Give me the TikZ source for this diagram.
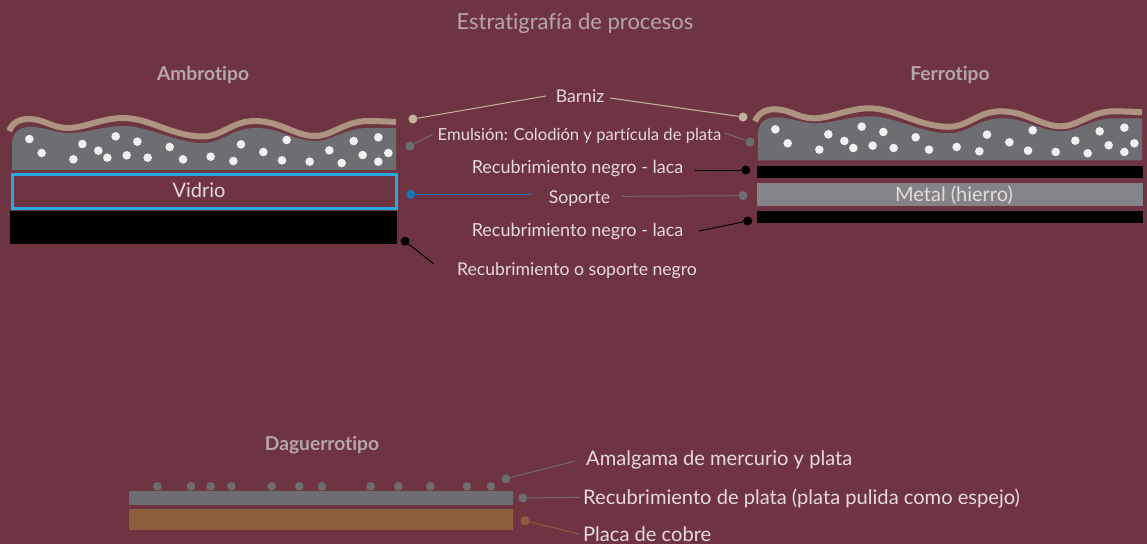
\documentclass[tikz,border=0pt]{standalone}
\usepackage{fontspec}
\setmainfont{Lato}[Ligatures=NoCommon]
\definecolor{bgc}{HTML}{6F3441}
\definecolor{varn}{HTML}{AC9480}
\definecolor{emul}{HTML}{6D6E71}
\definecolor{dotw}{HTML}{F1F1F2}
\definecolor{labc}{HTML}{E6DADC}
\definecolor{headc}{HTML}{B5A6AC}
\definecolor{glassb}{HTML}{27AAE1}
\definecolor{blued}{HTML}{1B75BC}
\definecolor{metal}{HTML}{828487}
\definecolor{copper}{HTML}{8B5E3C}
\definecolor{beige}{HTML}{C2B59B}
\tikzset{
  x=1pt,y=-1pt,
  lab/.style={text=labc,font=\fontsize{17.6}{20}\selectfont,inner sep=0pt},
  lacalab/.style={text=labc,font=\fontsize{18}{20}\selectfont,inner sep=0pt},
  smalllab/.style={text=labc,font=\fontsize{16.6}{20}\selectfont,inner sep=0pt},
  biglab/.style={text=labc,font=\fontsize{20.1}{24}\selectfont,inner sep=0pt},
  head/.style={text=headc,font=\bfseries\fontsize{19.2}{23}\selectfont,inner sep=0pt},
  inlab/.style={text=labc,font=\fontsize{20}{24}\selectfont,inner sep=0pt},
  pt/.style={circle,fill=#1,draw=none,minimum size=9pt,inner sep=0pt},
  conn/.style={draw=#1,line width=1pt},
  grain/.style={fill=dotw,draw=none},
  amal/.style={fill=emul,draw=none},
}
\newcommand{\stratawave}{%
  \fill[emul] (12,170) -- (12,142) .. controls (13,132) and (20,127) .. (30,127)
    .. controls (45,127) and (55,133) .. (70,133)
    .. controls (85,133) and (105,126) .. (123,126)
    .. controls (150,126) and (175,143) .. (203,143)
    .. controls (222,143) and (232,128) .. (256,128)
    .. controls (280,128) and (295,141) .. (315,141)
    .. controls (332,141) and (345,128) .. (368,128)
    .. controls (378,128) and (388,128) .. (396,128) -- (396,170) -- cycle;
  \draw[varn,line width=6pt] (9,131) .. controls (13,122) and (20,119) .. (29,119)
    .. controls (44,119) and (52,128) .. (68,128)
    .. controls (84,128) and (103,118) .. (123,118)
    .. controls (150,118) and (172,136.5) .. (203,136.5)
    .. controls (222,136.5) and (232,121) .. (255,121)
    .. controls (280,121) and (295,136) .. (315,136)
    .. controls (332,136) and (345,121) .. (368,121)
    .. controls (378,121) and (388,121.5) .. (396,122);
  \foreach \a/\b in {88/267,125/309,220/328,247/282,295/302,322/323,347/259,380/316,412/275,443/323,509/291,549/328,632/320,700/333,723/283,790/306,846/331,860/270,929/335,988/301,1025/339,1061/273,1088/315,1135/262,1135/335,1165/309}
    \fill[grain] ({\a/3},{50+\b/3}) circle[radius=4.3pt];
}
\begin{document}
\begin{tikzpicture}
\useasboundingbox (0,0) rectangle (1147,544);
\fill[bgc] (0,0) rectangle (1147,544);

% Headings
\node[text=headc,font=\fontsize{22}{26}\selectfont,inner sep=0pt] (title) at (575,23) {Estratigrafía de procesos};
\node[head] (hamb) at (203,75) {Ambrotipo};
\node[head] (hfer) at (950,75) {Ferrotipo};
\node[head] (hdag) at (322,445) {Daguerrotipo};

% Ambrotipo
\stratawave
\node[draw=glassb,line width=3pt,minimum width=384pt,minimum height=34pt,inner sep=0pt] (vidrio) at (204.5,191.5) {};
\node[inlab] (vtxt) at (199,190) {Vidrio};
\fill[black] (10,210.5) rectangle (397,244);

% Ferrotipo
\begin{scope}[shift={(746,-9.7)}]
\stratawave
\end{scope}
\fill[black] (757,166) rectangle (1143,178);
\fill[metal] (757,183) rectangle (1143,206);
\node[inlab] (mtxt) at (954,195) {Metal (hierro)};
\fill[black] (757,211) rectangle (1143,223);

% Daguerrotipo
\fill[emul] (129,491) rectangle (513,505);
\fill[copper] (129,509) rectangle (513,530);
\foreach \a in {112,213,272,334,455,538,606,752,835,931,1041,1113}
  \fill[amal] ({120+\a/3},486.3) circle[radius=4.3pt];

% Labels
\node[lab] (barniz) at (580,96) {Barniz};
\node[smalllab] (emuls) at (579.5,135.5) {Emulsión: Colodión y partícula de plata};
\node[lacalab] (laca1) at (577.5,169) {Recubrimiento negro - laca};
\node[lab] (soporte) at (579.5,199) {Soporte};
\node[lacalab] (laca2) at (577.5,232) {Recubrimiento negro - laca};
\node[lab] (negro) at (577,271) {Recubrimiento o soporte negro};
\node[biglab,anchor=west] (amalg) at (586,459.5) {Amalgama de mercurio y plata};
\node[biglab,anchor=west] (plata) at (583,498.5) {Recubrimiento de plata (plata pulida como espejo)};
\node[biglab,anchor=west] (cobre) at (583,534) {Placa de cobre};

% Marker dots
\node[pt=beige] (d1) at (413,119) {};
\node[pt=beige] (d2) at (743,117) {};
\node[pt=emul] (d3) at (410,146) {};
\node[pt=emul] (d4) at (750,142) {};
\node[pt=black] (d5) at (745.7,170) {};
\node[pt=blued] (d6) at (410.7,194.3) {};
\node[pt=emul] (d7) at (743,195.7) {};
\node[pt=black] (d8) at (747.7,221) {};
\node[pt=black] (d9) at (405,241.3) {};
\node[pt=emul] (d10) at (506,478.7) {};
\node[pt=emul] (d11) at (522.7,498) {};
\node[pt=copper] (d12) at (525,520.7) {};

% Free ends of connectors
\coordinate (e1) at (545.7,96);
\coordinate (e2) at (610,98);
\coordinate (e3) at (433,134);
\coordinate (e4) at (724,132.7);
\coordinate (e5) at (695,170);
\coordinate (e6) at (532,194.3);
\coordinate (e7) at (621.7,196.3);
\coordinate (e8) at (699,231);
\coordinate (e9) at (434,264);
\coordinate (e10) at (575,461);
\coordinate (e11) at (580,497.3);
\coordinate (e12) at (579,534);

% Connectors
\draw[conn=beige] (d1) -- (e1);
\draw[conn=beige] (d2) -- (e2);
\draw[conn=emul] (d3) -- (e3);
\draw[conn=emul] (d4) -- (e4);
\draw[conn=black] (d5) -- (e5);
\draw[conn=blued] (d6) -- (e6);
\draw[conn=emul] (d7) -- (e7);
\draw[conn=black] (d8) -- (e8);
\draw[conn=black] (d9) -- (e9);
\draw[conn=emul] (d10) -- (e10);
\draw[conn=emul] (d11) -- (e11);
\draw[conn=copper] (d12) -- (e12);
\end{tikzpicture}
\end{document}
